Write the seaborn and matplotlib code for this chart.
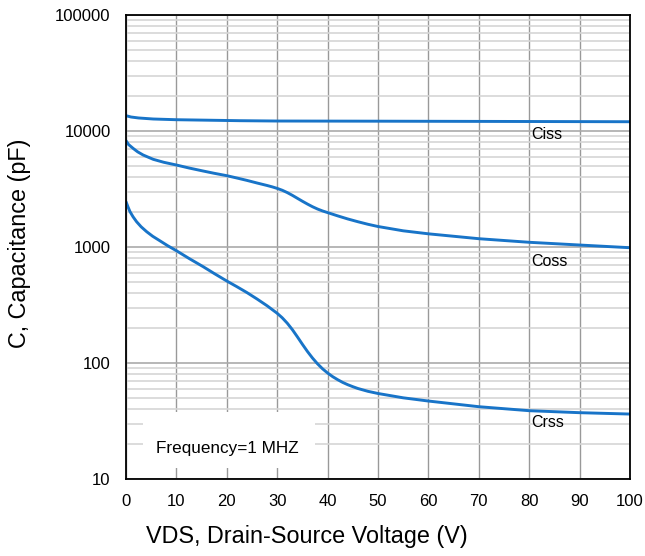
import matplotlib
matplotlib.use("Agg")
import matplotlib.pyplot as plt
import seaborn as sns
import pandas as pd
from matplotlib.ticker import FixedLocator, NullFormatter, FixedFormatter

# Values
ciss_v = [0, 1, 2.5, 5.4, 10, 22.6, 30, 50, 70, 100]
ciss = [13550, 13200, 12950, 12690, 12510, 12270, 12190, 12150, 12100, 12020]

coss_v = [0, 0.5, 1.4, 2.3, 3.4, 5.4, 7.5, 10, 12.5, 15.3, 17.5, 20, 22, 24, 26, 28, 29, 30,
          31, 32, 33, 34, 35, 36, 37, 38, 39, 40, 42, 44, 46, 48, 50, 55, 60, 70, 80, 90, 100]
coss = [8250, 7650, 7090, 6618, 6210, 5700, 5373, 5090, 4798, 4520, 4319, 4119, 3934, 3751,
        3562, 3390, 3300, 3200, 3085, 2945, 2790, 2630, 2480, 2345, 2225, 2125, 2045, 1980,
        1855, 1745, 1652, 1570, 1502, 1379, 1299, 1179, 1098, 1040, 986]

crss_v = [0, 0.4, 0.8, 1.4, 2.1, 3.0, 4.1, 5.3, 6.7, 8.3, 10, 12.5, 15.3, 17.5, 20, 22, 24, 26,
          28, 30, 31, 32, 33, 34, 35, 36, 37, 38, 39, 40, 41, 42, 43, 44, 45, 46, 48, 50, 55,
          60, 70, 80, 90, 100]
crss = [2459, 2213, 2015, 1821, 1652, 1494, 1355, 1237, 1133, 1024, 929, 797, 677, 591, 509,
        454.8, 404.6, 356.2, 311.3, 268.2, 245.3, 220.3, 194.1, 168.2, 145.0, 125.7, 110.4,
        98.4, 89.1, 82.0, 76.3, 71.8, 68.0, 65.0, 62.5, 60.3, 57.0, 54.6, 50.1, 47.0, 42.0,
        38.8, 37.3, 36.3]

series_names = ["Ciss", "Coss", "Crss"]
series_x = [ciss_v, coss_v, crss_v]
series_values = [ciss, coss, crss]
label_pos = [(80.5, 9250), (80.5, 747), (80.5, 30.5)]

xticks = [0, 10, 20, 30, 40, 50, 60, 70, 80, 90, 100]
yticks = [10, 100, 1000, 10000, 100000]
ytick_labels = ["10", "100", "1000", "10000", "100000"]

rows = []
for name, xs, vals in zip(series_names, series_x, series_values):
    for x, v in zip(xs, vals):
        rows.append({"VDS": x, "C": v, "series": name})
df = pd.DataFrame(rows)

sns.set_theme(style="white")
plt.rcParams["font.family"] = ["Liberation Sans", "DejaVu Sans"]

fig = plt.figure(figsize=(6.45, 5.56), dpi=100)
ax = fig.add_axes([126/645, 1 - 479/556, (630-126)/645, (479-15)/556])

color = "#1874c8"
sns.lineplot(data=df, x="VDS", y="C", units="series", estimator=None, color=color,
             linewidth=2.1, ax=ax, legend=False, sort=True)

ax.set_yscale("log")
ax.set_xlim(0, 100)
ax.set_ylim(10, 100000)

ax.xaxis.set_major_locator(FixedLocator(xticks))
ax.yaxis.set_major_locator(FixedLocator(yticks))
ax.yaxis.set_major_formatter(FixedFormatter(ytick_labels))
minors = [m * 10**e for e in range(1, 5) for m in range(2, 10)]
ax.yaxis.set_minor_locator(FixedLocator(minors))
ax.yaxis.set_minor_formatter(NullFormatter())

ax.grid(True, which="minor", axis="y", color="#d6d6d6", linewidth=1.2)
ax.grid(True, which="major", axis="y", color="#aaaaaa", linewidth=1.2)
ax.grid(True, which="major", axis="x", color="#999999", linewidth=1.0)
ax.set_axisbelow(True)

for s in ax.spines.values():
    s.set_visible(True)
    s.set_color("black")
    s.set_linewidth(1.3)

ax.tick_params(axis="both", which="both", length=0, labelsize=12, colors="black")
ax.tick_params(axis="x", pad=11)
ax.tick_params(axis="y", pad=11)

ax.set_xlabel("")
ax.set_ylabel("")
fig.text(307/645, 1 - 537/556, "VDS, Drain-Source Voltage (V)", fontsize=16.8,
         ha="center", va="center", color="black")
fig.text(20/645, 1 - 243/556, "C, Capacitance (pF)", fontsize=16.8, rotation=90,
         ha="center", va="center", color="black")

for name, (lx, ly) in zip(series_names, label_pos):
    ax.text(lx, ly, name, fontsize=11.5, ha="left", va="center", color="black")

# frequency note box
ax.fill_between([3.4, 37.5], [12.4, 12.4], [37.9, 37.9], color="white", zorder=1.5, linewidth=0)
ax.text(6, 18.3, "Frequency=1 MHZ", fontsize=12.3, ha="left", va="center", color="black", zorder=2)

fig.savefig("out.png", dpi=100)
